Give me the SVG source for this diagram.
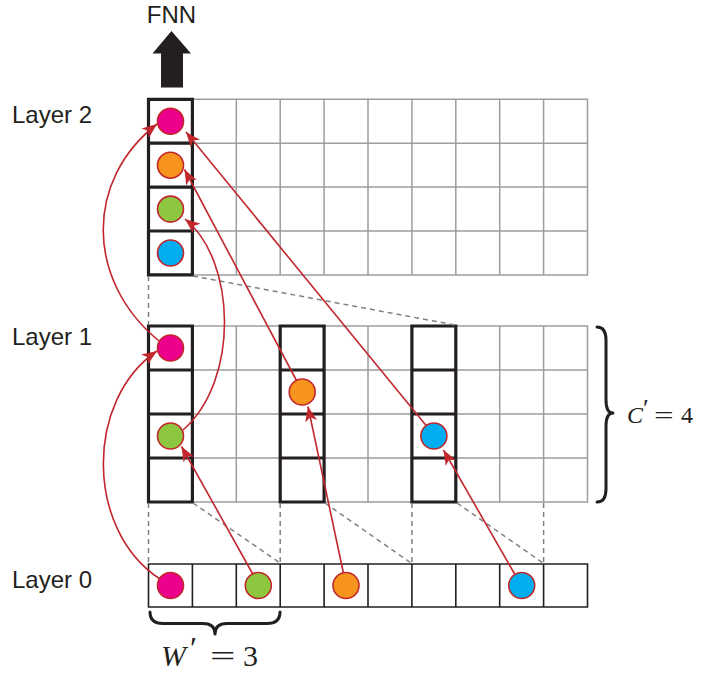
<svg xmlns="http://www.w3.org/2000/svg" width="701" height="677" viewBox="0 0 701 677">
  <style>
    .grid { fill: none; stroke: #9d9d9d; stroke-width: 1.5; }
    .thick { fill: none; stroke: #231f20; stroke-width: 3.2; }
    .cells0 { fill: none; stroke: #231f20; stroke-width: 1.6; }
    .dash { fill: none; stroke: #808080; stroke-width: 1.5; stroke-dasharray: 5 4; }
    .arrow { fill: none; stroke: #c1272d; stroke-width: 1.6; marker-end: url(#head); }
    .node { stroke: #c1272d; stroke-width: 1.6; }
    .mag { fill: #ec008c; }
    .org { fill: #f7941d; }
    .grn { fill: #8dc63f; }
    .blu { fill: #00aeef; }
    .label { font-family: "Liberation Sans", Arial, sans-serif; font-size: 24px; fill: #231f20; }
    .math { font-family: "Liberation Serif", "Times New Roman", serif; fill: #231f20; }
    .brace { fill: none; stroke: #231f20; stroke-width: 3; stroke-linecap: round; stroke-linejoin: round; }
  </style>
  <defs>
    <marker id="head" markerUnits="userSpaceOnUse" viewBox="0 0 15 12" markerWidth="15" markerHeight="12" refX="15" refY="6" orient="auto">
      <path d="M0,0 L15,6 L0,12 L4,6 z" fill="#c1272d"/>
    </marker>
  </defs>

  <!-- labels -->
  <text class="label" x="171.5" y="23" text-anchor="middle">FNN</text>
  <text class="label" x="12" y="123">Layer 2</text>
  <text class="label" x="12" y="345">Layer 1</text>
  <text class="label" x="12" y="588">Layer 0</text>

  <!-- output arrow to the FNN -->
  <polygon id="fnn-arrow" points="171.5,31 191,53.5 183,53.5 183,87.5 161,87.5 161,53.5 152.5,53.5" fill="#231f20"/>

  <!-- Layer 2 grid -->
  <g id="layer2">
    <path class="grid" d="M148.5,99.3 H587.5 V274.9 H148.5 Z
      M148.5,143.2 H587.5 M148.5,187.1 H587.5 M148.5,231 H587.5
      M192.4,99.3 V274.9 M236.3,99.3 V274.9 M280.2,99.3 V274.9 M324.1,99.3 V274.9
      M368,99.3 V274.9 M411.9,99.3 V274.9 M455.8,99.3 V274.9 M499.7,99.3 V274.9 M543.6,99.3 V274.9"/>
    <path class="thick" d="M148.5,99.3 H192.4 V274.9 H148.5 Z M148.5,143.2 H192.4 M148.5,187.1 H192.4 M148.5,231 H192.4"/>
  </g>

  <!-- Layer 1 grid -->
  <g id="layer1">
    <path class="grid" d="M148.5,326 H587.5 V502 H148.5 Z
      M148.5,370 H587.5 M148.5,414 H587.5 M148.5,458 H587.5
      M192.4,326 V502 M236.3,326 V502 M280.2,326 V502 M324.1,326 V502
      M368,326 V502 M411.9,326 V502 M455.8,326 V502 M499.7,326 V502 M543.6,326 V502"/>
    <path class="thick" d="M148.5,326 H192.4 V502 H148.5 Z M148.5,370 H192.4 M148.5,414 H192.4 M148.5,458 H192.4"/>
    <path class="thick" d="M280.2,326 H324.1 V502 H280.2 Z M280.2,370 H324.1 M280.2,414 H324.1 M280.2,458 H324.1"/>
    <path class="thick" d="M411.9,326 H455.8 V502 H411.9 Z M411.9,370 H455.8 M411.9,414 H455.8 M411.9,458 H455.8"/>
  </g>

  <!-- Layer 0 row -->
  <g id="layer0">
    <path class="cells0" d="M148.5,564 H587.5 V607 H148.5 Z
      M192.4,564 V607 M236.3,564 V607 M280.2,564 V607 M324.1,564 V607
      M368,564 V607 M411.9,564 V607 M455.8,564 V607 M499.7,564 V607 M543.6,564 V607"/>
  </g>

  <!-- receptive-field guides -->
  <g id="guides">
    <path class="dash" d="M148.5,276 V325"/>
    <path class="dash" d="M193,276 L455,325"/>
    <path class="dash" d="M148.5,503 V563 M280.2,503 V563 M411.9,503 V563 M543.6,503 V563"/>
    <path class="dash" d="M193,503 L280,563 M325,503 L411,563 M457,503 L543,563"/>
  </g>

  <!-- connectors -->
  <g id="connectors">
    <path class="arrow" d="M160,579 C85,530 85,400 157,351"/>
    <path class="arrow" d="M252.5,573.5 L181.5,446.5"/>
    <path class="arrow" d="M343.5,573.5 L308,406.5"/>
    <path class="arrow" d="M515.5,575.5 L443.5,450"/>
    <path class="arrow" d="M159,341 C85,280 85,180 157,124"/>
    <path class="arrow" d="M183,430 C240,380 236,260 185,219"/>
    <path class="arrow" d="M296.5,380.5 L184.5,169.5"/>
    <path class="arrow" d="M426.5,426 L186,132"/>
  </g>

  <!-- Layer 2 units -->
  <g id="l2-units">
    <circle class="node mag" cx="170.5" cy="121.3" r="13"/>
    <circle class="node org" cx="170.5" cy="165.2" r="13"/>
    <circle class="node grn" cx="170.5" cy="209.1" r="13"/>
    <circle class="node blu" cx="170.5" cy="253" r="13"/>
  </g>

  <!-- Layer 1 units -->
  <g id="l1-units">
    <circle class="node mag" cx="170.5" cy="348" r="13"/>
    <circle class="node grn" cx="170.5" cy="436" r="13"/>
    <circle class="node org" cx="302.2" cy="392" r="13"/>
    <circle class="node blu" cx="433.9" cy="436" r="13"/>
  </g>

  <!-- Layer 0 units -->
  <g id="l0-units">
    <circle class="node mag" cx="170.5" cy="585.5" r="13"/>
    <circle class="node grn" cx="258.3" cy="585.5" r="13"/>
    <circle class="node org" cx="346" cy="585.5" r="13"/>
    <circle class="node blu" cx="521.7" cy="585.5" r="13"/>
  </g>

  <!-- channel brace and its label -->
  <g id="channels">
    <path class="brace" d="M597,327 Q606,327 606,340 L606,400 Q606,413 613,413 Q606,413 606,426 L606,489 Q606,502 597,502"/>
    <text class="math" x="627" y="423" font-size="24" font-style="italic">C</text>
    <text class="math" x="643" y="417" font-size="26">′</text>
    <text class="math" font-size="24" transform="translate(654,423) scale(1.45,1)">=</text>
    <text class="math" x="681" y="423" font-size="24">4</text>
  </g>

  <!-- width brace and its label -->
  <g id="width">
    <path class="brace" d="M150,612 Q150,623.5 163,623.5 L203,623.5 Q215,623.5 215,634 Q215,623.5 227,623.5 L267,623.5 Q280,623.5 280,612"/>
    <text class="math" x="161" y="666" font-size="30" font-style="italic">W</text>
    <text class="math" x="190" y="659" font-size="32">′</text>
    <text class="math" font-size="30" transform="translate(210,666) scale(1.5,1)">=</text>
    <text class="math" x="243" y="666" font-size="30">3</text>
  </g>
</svg>
